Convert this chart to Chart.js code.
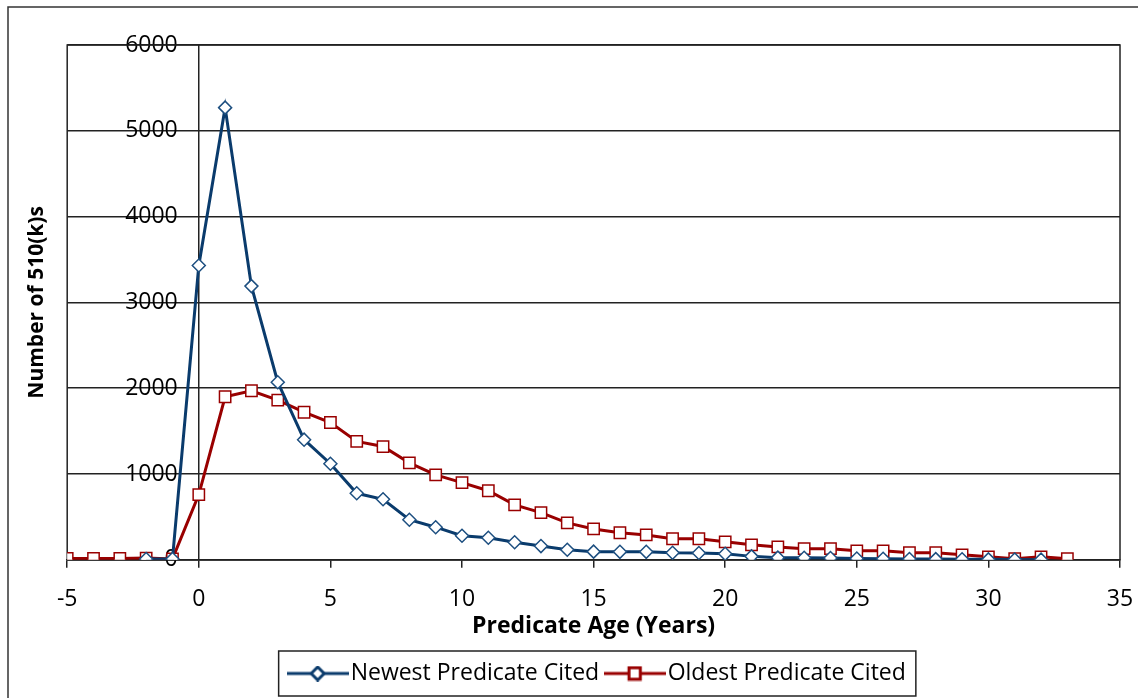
<!DOCTYPE html>
<html lang="en">
<head>
<meta charset="utf-8">
<title>Predicate Age of 510(k)s</title>
<script src="https://cdn.jsdelivr.net/npm/chart.js"></script>
<style>
  html, body { margin: 0; padding: 0; background: #fff; }
  #wrap { position: relative; width: 1138px; height: 698px; }
</style>
</head>
<body>
<div id="wrap"><canvas id="ageChart"></canvas></div>
<script>
// values
const newestAges = [-2, -1, 0, 1, 2, 3, 4, 5, 6, 7, 8, 9, 10, 11, 12, 13, 14, 15, 16, 17, 18, 19, 20, 21, 22, 23, 24, 25, 26, 27, 28, 29, 30, 31, 32];
const newestCounts = [10, 10, 3430, 5270, 3190, 2070, 1400, 1120, 775, 705, 467, 380, 280, 257, 205, 160, 117, 95, 93, 93, 82, 80, 70, 40, 25, 23, 20, 15, 12, 10, 8, 6, 5, 3, 2];
const oldestAges = [-5, -4, -3, -2, -1, 0, 1, 2, 3, 4, 5, 6, 7, 8, 9, 10, 11, 12, 13, 14, 15, 16, 17, 18, 19, 20, 21, 22, 23, 24, 25, 26, 27, 28, 29, 30, 31, 32, 33];
const oldestCounts = [15, 15, 15, 20, 10, 760, 1900, 1970, 1860, 1720, 1600, 1380, 1320, 1130, 990, 900, 805, 640, 550, 430, 360, 315, 290, 245, 245, 210, 175, 150, 130, 130, 105, 105, 82, 82, 58, 35, 12, 35, 12];
const seriesNames = ['Newest Predicate Cited', 'Oldest Predicate Cited'];

const FONT = 'Open Sans';
const BLUE = '#0a3b6c';
const RED = '#990000';
const SYM_W = 62;   // legend symbol picture width
const BOX_W = 43;   // room the legend keeps for it
const LEGEND_SHIFT = 34; // the legend sits a bit right of centre in the original

function toPoints(xs, ys) {
  return xs.map((x, i) => ({ x: x, y: ys[i] }));
}

// little line-marker-line picture for the legend
function legendSymbol(color, style) {
  const c = document.createElement('canvas');
  c.width = SYM_W; c.height = 16;
  const g = c.getContext('2d');
  g.strokeStyle = color;
  g.lineWidth = 3;
  g.beginPath(); g.moveTo(0, 8); g.lineTo(SYM_W, 8); g.stroke();
  g.fillStyle = '#fff';
  Chart.helpers.drawPoint(g, { pointStyle: style, radius: style === 'rect' ? 8 : 6.5, borderWidth: 1.5 }, SYM_W / 2, 8);
  return c;
}
const symbols = [legendSymbol(BLUE, 'rectRot'), legendSymbol(RED, 'rect')];

const frame = {
  id: 'frame',
  afterLayout(chart) {
    chart.legend.left += LEGEND_SHIFT;
    chart.legend.right += LEGEND_SHIFT;
  },
  beforeDraw(chart) {
    const ctx = chart.ctx;
    ctx.save();
    ctx.fillStyle = '#fff';
    ctx.fillRect(0, 0, chart.width, chart.height);
    ctx.strokeStyle = '#333';
    ctx.lineWidth = 1.5;
    ctx.strokeRect(8, 7, chart.width + 20, chart.height + 20);
    ctx.restore();
  },
  beforeDatasetsDraw(chart) {
    const a = chart.chartArea;
    const ctx = chart.ctx;
    ctx.save();
    ctx.strokeStyle = '#222';
    ctx.lineWidth = 1.5;
    ctx.strokeRect(a.left, a.top, a.right - a.left, a.bottom - a.top);
    ctx.restore();
  },
  afterDraw(chart) {
    // box round the legend items (hitboxes are where the items were drawn)
    const boxes = chart.legend.legendHitBoxes;
    if (!boxes || !boxes.length) return;
    const first = boxes[0];
    const last = boxes[boxes.length - 1];
    const l = first.left - (SYM_W - BOX_W) / 2 - 8;
    const r = last.left + last.width + 10;
    const t = first.top - 11;
    const b = first.top + first.height + 11;
    const ctx = chart.ctx;
    ctx.save();
    ctx.strokeStyle = '#222';
    ctx.lineWidth = 1.5;
    ctx.strokeRect(l, t, r - l, b - t);
    ctx.restore();
  }
};

new Chart(document.getElementById('ageChart'), {
  type: 'line',
  data: {
    datasets: [{
      label: seriesNames[0],
      data: toPoints(newestAges, newestCounts),
      borderColor: BLUE,
      backgroundColor: '#fff',
      borderWidth: 3,
      pointStyle: 'rectRot',
      pointRadius: 6.5,
      pointBorderWidth: 1.5,
      pointBorderColor: '#1d4f80',
      pointBackgroundColor: '#fff',
      tension: 0
    }, {
      label: seriesNames[1],
      data: toPoints(oldestAges, oldestCounts),
      borderColor: RED,
      backgroundColor: '#fff',
      borderWidth: 3,
      pointStyle: 'rect',
      pointRadius: 8,
      pointBorderWidth: 1.5,
      pointBorderColor: RED,
      pointBackgroundColor: '#fff',
      tension: 0
    }]
  },
  options: {
    responsive: true,
    maintainAspectRatio: false,
    animation: false,
    layout: { padding: { left: 14, top: 45, right: 18, bottom: 3 } },
    plugins: {
      tooltip: { enabled: false },
      legend: {
        position: 'bottom',
        labels: {
          usePointStyle: true,
          pointStyleWidth: BOX_W,
          boxHeight: 16,
          padding: 14,
          color: '#000',
          font: { family: FONT, size: 23 },
          generateLabels(chart) {
            const items = Chart.defaults.plugins.legend.labels.generateLabels(chart);
            items.forEach((it, i) => { it.pointStyle = symbols[i]; });
            return items;
          }
        }
      }
    },
    scales: {
      x: {
        type: 'linear',
        min: -5, max: 35,
        afterFit(scale) { scale.paddingLeft = 0; scale.paddingRight = 0; },
        ticks: { stepSize: 5, color: '#000', font: { family: FONT, size: 23 }, padding: 18 },
        // only the x = 0 line is drawn across the plot
        grid: {
          drawOnChartArea: true, drawTicks: true, tickLength: 8,
          color: c => (c.tick && c.tick.value === 0 ? '#222' : 'rgba(0,0,0,0)'),
          tickColor: '#222', lineWidth: 1.5
        },
        border: { display: true, color: '#222', width: 1.5 },
        title: { display: true, text: 'Predicate Age (Years)', color: '#000', font: { family: FONT, size: 23, weight: 'bold' }, padding: { top: -19, bottom: 8 } }
      },
      y: {
        type: 'linear',
        position: { x: -0.8 },
        min: 0, max: 6000,
        ticks: { stepSize: 1000, color: '#000', font: { family: FONT, size: 23 }, callback: v => String(v) },
        grid: { color: '#222', lineWidth: 1.5, drawTicks: false },
        border: { display: false }
      },
      yLabel: {
        type: 'linear',
        position: 'left',
        min: 0, max: 6000,
        ticks: { display: false },
        grid: { display: false },
        border: { display: false },
        title: { display: true, text: 'Number of 510(k)s', color: '#000', font: { family: FONT, size: 21, weight: 'bold' }, padding: { top: 10, bottom: 10 } }
      }
    }
  },
  plugins: [frame]
});
</script>
</body>
</html>
